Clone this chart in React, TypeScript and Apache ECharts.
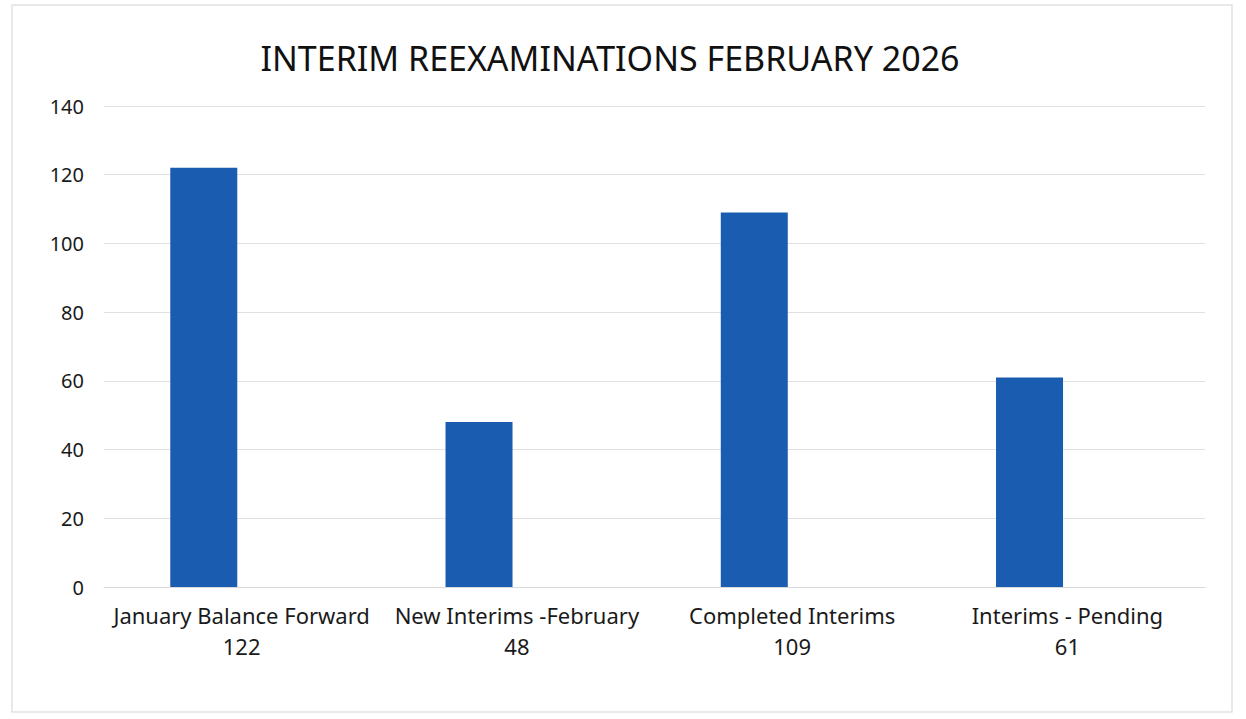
import React, { useEffect, useRef } from "react";
import * as echarts from "echarts";

const title = "INTERIM REEXAMINATIONS FEBRUARY 2026";
const categories = [
  "January Balance Forward\n122",
  "New Interims -February\n48",
  "Completed Interims\n109",
  "Interims - Pending\n61",
];
const values = [122, 48, 109, 61];
const emptySlot = [null, null, null, null];
const yTicks = { min: 0, max: 140, interval: 20 };

export default function App() {
  const ref = useRef<HTMLDivElement>(null);
  useEffect(() => {
    if (!ref.current) return;
    const chart = echarts.init(ref.current, null, { renderer: "svg" });
    const font = "'Noto Sans', 'Open Sans', sans-serif";
    chart.setOption({
      animation: false,
      backgroundColor: "#ffffff",
      title: {
        text: title,
        left: 605,
        textAlign: "center",
        top: 36,
        textStyle: { fontFamily: font, fontSize: 34, fontWeight: "normal", color: "#111111" },
      },
      graphic: [
        {
          type: "rect",
          shape: { x: 12, y: 5, width: 1220, height: 707 },
          style: { fill: "none", stroke: "#e2e2e2", lineWidth: 1.5 },
          silent: true,
        },
      ],
      grid: { left: 104, right: 41, top: 106, bottom: 132 },
      xAxis: {
        type: "category",
        data: categories,
        axisTick: { show: false },
        axisLine: { lineStyle: { color: "#d9d9d9", width: 1 } },
        axisLabel: {
          fontFamily: font,
          fontSize: 22,
          color: "#1a1a1a",
          lineHeight: 31,
          margin: 12,
          interval: 0,
        },
      },
      yAxis: {
        type: "value",
        min: yTicks.min,
        max: yTicks.max,
        interval: yTicks.interval,
        axisLine: { show: false },
        axisTick: { show: false },
        splitLine: { lineStyle: { color: "#e0e0e0", width: 1 } },
        axisLabel: { fontFamily: font, fontSize: 20, color: "#1a1a1a", margin: 20 },
      },
      series: [
        {
          type: "bar",
          data: values,
          barWidth: 67,
          barGap: "13%",
          itemStyle: { color: "#1a5cb0" },
        },
        {
          type: "bar",
          data: emptySlot,
          barWidth: 67,
          itemStyle: { color: "transparent" },
          silent: true,
        },
      ],
    });
    return () => chart.dispose();
  }, []);
  return (
    <div
      ref={ref}
      style={{ position: "absolute", left: 0, top: 0, width: 1246, height: 719 }}
    />
  );
}
